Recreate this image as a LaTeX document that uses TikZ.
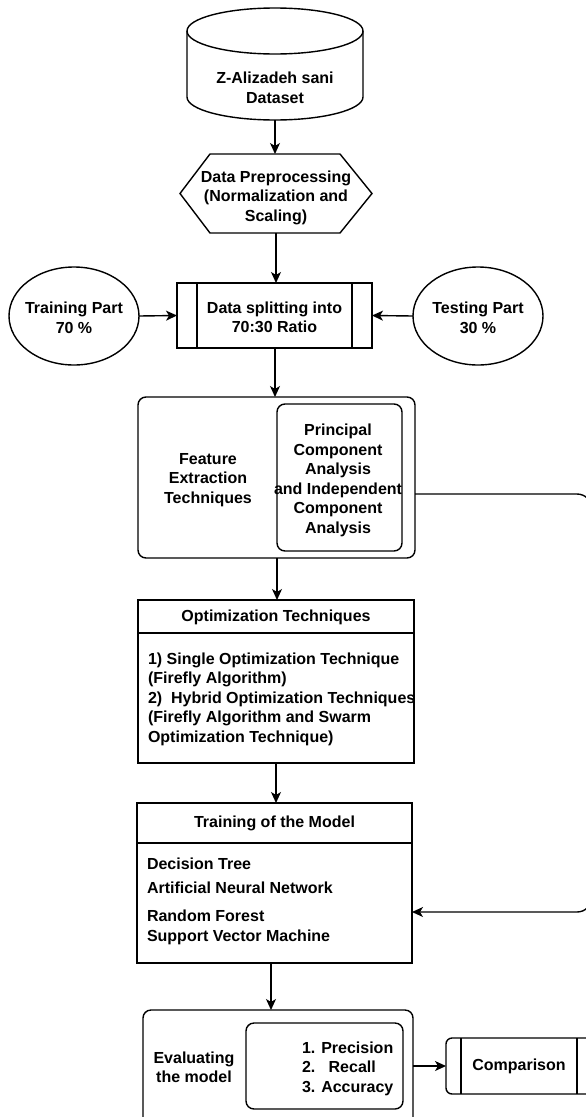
\documentclass[tikz,border=0pt]{standalone}
\usepackage{fontspec}
\setmainfont{Liberation Sans}
\usetikzlibrary{arrows.meta,shapes.geometric}
\begin{document}
\begin{tikzpicture}[x=1pt,y=-1pt,
  every node/.style={font=\bfseries\fontsize{16}{19.5}\selectfont, inner sep=0pt, outer sep=0pt},
  lw/.style={line width=1.4pt},
  arr/.style={lw, -{Stealth[length=11pt,width=10pt,inset=3pt]}},
  box/.style={draw, lw, rectangle},
  rbox/.style={box, rounded corners=8pt},
  oval/.style={ellipse, draw, lw, minimum width=130, minimum height=98}]
\useasboundingbox (0,0) rectangle (586,1117);
\clip (0,0) rectangle (586,1117);
\fill[white] (0,0) rectangle (586,1117);

% dataset cylinder
\node[minimum width=176, minimum height=112] (data) at (275,64) {};
\draw[lw] (187,31) -- (187,97) arc[start angle=180, end angle=360, x radius=88pt, y radius=23pt] -- (363,31);
\draw[lw] (275,31) ellipse[x radius=88pt, y radius=23pt];
\node[align=center] (datat) at (275,88) {Z-Alizadeh sani\\Dataset};

% preprocessing hexagon
\node[minimum width=192, minimum height=79] (prep) at (276,193.5) {};
\draw[lw] (180,193.5) -- (210,154) -- (340,154) -- (372,193.5) -- (340,233) -- (210,233) -- cycle;
\node[align=center] (prept) at (276,197.5) {Data Preprocessing\\(Normalization and\\Scaling)};

% splitting
\node[box, minimum width=195, minimum height=65] (split) at (274.5,315.5) {};
\node[align=center] (splitt) at (274.5,317.5) {Data splitting into\\70:30 Ratio};
\draw[lw] ([xshift=20pt]split.north west) -- ([xshift=20pt]split.south west);
\draw[lw] ([xshift=-20pt]split.north east) -- ([xshift=-20pt]split.south east);
\node[oval] (train70) at (74,316) {};
\node[align=center] (train70t) at (74,318) {Training Part\\70 \%};
\node[oval] (test30) at (478,316) {};
\node[align=center] (test30t) at (478,318) {Testing Part\\30 \%};

% feature extraction
\node[rbox, minimum width=277, minimum height=161] (feat) at (276.5,477.5) {};
\node[align=center] (featt) at (208,480) {Feature\\Extraction\\Techniques};
\node[rbox, minimum width=125, minimum height=147] (pca) at (339.5,477.5) {};
\node[align=center] (pcat) at (338,480.5) {Principal\\Component\\Analysis\\and Independent\\Component\\Analysis};

% optimization
\node[draw, line width=2.5pt, minimum width=276, minimum height=163] (opt) at (276,681.5) {};
\draw[line width=2.5pt] (opt.west |- 0,633) -- (opt.east |- 0,633);
\node (optt) at (276,617) {Optimization Techniques};
\node[align=left, anchor=west] (optb) at (148,699) {1) Single Optimization Technique\\(Firefly Algorithm)\\2)\ \ Hybrid Optimization Techniques\\(Firefly Algorithm and Swarm\\Optimization Technique)};

% training
\node[box, minimum width=275, minimum height=160] (train) at (274.5,883) {};
\draw[lw] (train.west |- 0,843) -- (train.east |- 0,843);
\node (traint) at (274.5,823) {Training of the Model};
\node[align=left, anchor=west, font=\bfseries\fontsize{16}{19}\selectfont] (trainb) at (147,901) {Decision Tree\\[5pt]Artificial Neural Network\\[9pt]Random Forest\\[1pt]Support Vector Machine};

% evaluation
\node[rbox, minimum width=270, minimum height=122] (eval) at (278,1071) {};
\node[align=center] (evalt) at (194,1067.5) {Evaluating\\the model};
\node[rbox, minimum width=157, minimum height=86] (met) at (324.5,1066) {};
\node[align=left, anchor=west] (mett) at (302,1068.5) {1. Precision\\2.\ \ \ Recall\\3. Accuracy};

% comparison
\node[box, rounded corners=6pt, minimum width=146, minimum height=56] (comp) at (519,1066) {Comparison};
\draw[lw] ([xshift=15pt]comp.north west) -- ([xshift=15pt]comp.south west);
\draw[lw] ([xshift=-15pt]comp.north east) -- ([xshift=-15pt]comp.south east);

% connectors
\draw[arr] (data.south) -- (data.south |- prep.north);
\draw[arr] (prep.south) -- (prep.south |- split.north);
\draw[arr] (train70.east) -- (split.west);
\draw[arr] (test30.west) -- (split.east);
\draw[arr] ([xshift=0.5pt]split.south) -- ([xshift=0.5pt]split.south |- feat.north);
\draw[arr] ([xshift=0.5pt]feat.south) -- ([xshift=0.5pt]feat.south |- opt.north);
\draw[arr] (opt.south) -- (opt.south |- train.north);
\draw[arr] ([xshift=-3.5pt]train.south) -- ([xshift=-3.5pt]train.south |- eval.north);
\draw[arr] (eval.east |- comp.west) -- (comp.west);
\coordinate (c1) at (592,494);
\coordinate (c2) at (592,912);
\draw[arr, rounded corners=15pt] (feat.east |- c1) -- (c1) -- (c2) -- (train.east |- c2);
\end{tikzpicture}
\end{document}
